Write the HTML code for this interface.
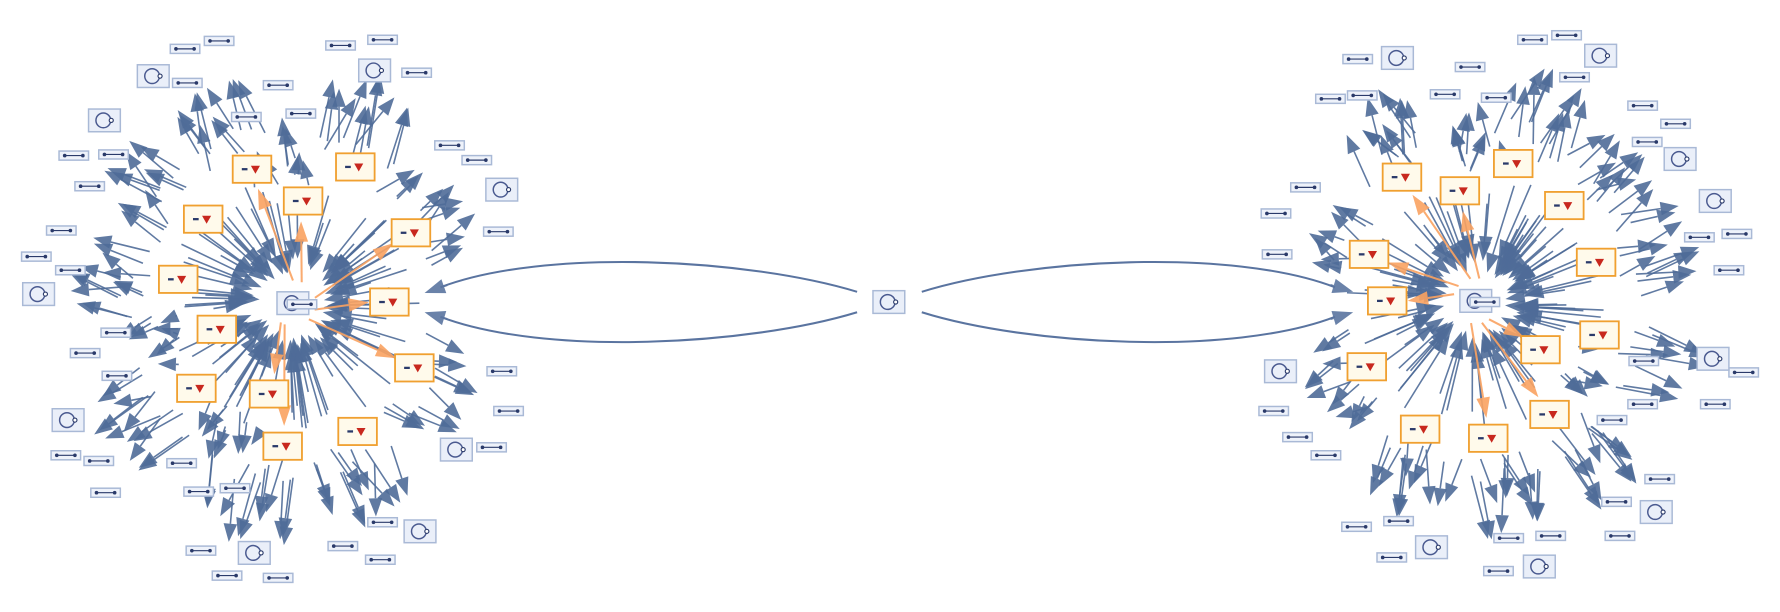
<!DOCTYPE html>
<html><head><meta charset="utf-8"><style>html,body{margin:0;padding:0;background:#fff;width:1780px;height:612px;overflow:hidden}</style></head>
<body>
<svg id="s" width="1780" height="612" viewBox="0 0 1568 539" xmlns="http://www.w3.org/2000/svg">
<g id="edges"></g><g id="nodes"></g>
</svg>
<script>
var E=document.getElementById('edges'),N=document.getElementById('nodes'),NS='http://www.w3.org/2000/svg';
var seed=7;function rnd(){seed=(seed*16807)%2147483647;return (seed-1)/2147483646;}
function el(p,t,a){var e=document.createElementNS(NS,t);for(var k in a)e.setAttribute(k,a[k]);p.appendChild(e);return e;}
function arrow(x1,y1,x2,y2,col,hl,hw,sw){
  var dx=x2-x1,dy=y2-y1,L=Math.sqrt(dx*dx+dy*dy);if(L<1)return;var ux=dx/L,uy=dy/L;
  var bx=x2-ux*hl,by=y2-uy*hl;
  el(E,'line',{x1:x1,y1:y1,x2:bx,y2:by,stroke:col,'stroke-width':sw||1.4,'stroke-opacity':0.9});
  el(E,'polygon',{points:x2+','+y2+' '+(bx-uy*hw)+','+(by+ux*hw)+' '+(bx+uy*hw)+','+(by-ux*hw),fill:col,'fill-opacity':0.9});
}
var B='#4f6b98',O='#f9a260';
function cluster(c,or,bars,circs){
  var periph=bars.concat(circs);
  for(var i=0;i<95;i++){var a=rnd()*6.283,r1=70+rnd()*45,r2=26+rnd()*18;
    arrow(c[0]+Math.cos(a)*r1,c[1]+Math.sin(a)*r1,c[0]+Math.cos(a+0.06)*r2,c[1]+Math.sin(a+0.06)*r2,B,17,6);}
  for(var i=0;i<or.length;i+=1){if(i%2)continue;var o=or[i];var a=Math.atan2(o[1]-c[1],o[0]-c[0]);
    arrow(c[0]+Math.cos(a+0.3)*20,c[1]+Math.sin(a+0.3)*20,o[0]-Math.cos(a)*18,o[1]-Math.sin(a)*18,O,18,6,1.8);}
  periph.forEach(function(p){
    var a=Math.atan2(p[1]-c[1],p[0]-c[0]);var dc=Math.hypot(p[0]-c[0],p[1]-c[1]);
    for(var k=0;k<3;k++){var j=(rnd()-0.5)*0.3;
      var r1=dc*0.62+rnd()*12,r2=dc-28-rnd()*14;
      arrow(c[0]+Math.cos(a+j)*r1,c[1]+Math.sin(a+j)*r1,c[0]+Math.cos(a+j*0.3)*r2,c[1]+Math.sin(a+j*0.3)*r2,B,16,6);}
  });
  or.forEach(function(o){
    el(N,'rect',{x:o[0]-17,y:o[1]-12,width:34,height:24,fill:'#fffaeb',stroke:'#f0a030','stroke-width':1.6});
    el(N,'rect',{x:o[0]-9,y:o[1]-1,width:5,height:2,fill:'#2a3a6a'});
    el(N,'path',{d:'M'+(o[0]-1)+','+(o[1]-3)+' l8,0 l-4,7 z',fill:'#c8281e'});
  });
  bars.forEach(function(b){barNode(b[0],b[1]);});
  circs.forEach(function(b){circNode(b[0],b[1]);});
  circNode(c[0],c[1]);barNode(c[0]+8,c[1]+1);
}
function barNode(x,y){el(N,'rect',{x:x-13,y:y-4,width:26,height:8,fill:'#eef2fa',stroke:'#a9b9d6','stroke-width':1.3});
  el(N,'line',{x1:x-8,y1:y,x2:x+8,y2:y,stroke:'#2a3a6a','stroke-width':1});
  el(N,'circle',{cx:x-8,cy:y,r:1.6,fill:'#2a3a6a'});el(N,'circle',{cx:x+8,cy:y,r:1.6,fill:'#2a3a6a'});}
function circNode(x,y){el(N,'rect',{x:x-14,y:y-10,width:28,height:20,fill:'#eaeff9',stroke:'#a9b9d6','stroke-width':1.3});
  el(N,'circle',{cx:x-1,cy:y,r:6.5,fill:'none',stroke:'#4a5a90','stroke-width':1.3});
  el(N,'circle',{cx:x+6,cy:y,r:1.8,fill:'#fff',stroke:'#2a3a6a','stroke-width':1});}
cluster([258,267],
 [[222,149],[313,147],[267,177],[179,193],[362,205],[157,246],[343,266],[191,290],[365,324],[173,342],[237,347],[315,380],[249,393]],
 [[163,43],[193,36],[300,40],[337,35],[367,64],[165,73],[245,75],[217,103],[265,100],[65,137],[100,136],[79,164],[396,128],[420,141],[439,204],[54,203],[32,226],[62,238],[102,293],[75,311],[103,331],[442,327],[448,362],[433,394],[58,401],[87,406],[160,408],[93,434],[175,433],[207,430],[337,460],[302,481],[335,493],[177,485],[200,507],[245,509]],
 [[135,67],[330,62],[92,106],[442,167],[34,259],[60,370],[402,396],[370,468],[224,487]]);
cluster([1300,265],
 [[1235,156],[1333,144],[1286,168],[1378,181],[1206,224],[1406,231],[1222,265],[1409,295],[1357,308],[1204,323],[1365,365],[1251,378],[1311,386]],
 [[1196,52],[1172,87],[1200,84],[1295,59],[1273,83],[1318,86],[1350,35],[1380,31],[1387,68],[1447,93],[1476,109],[1451,125],[1150,165],[1124,188],[1125,224],[1497,209],[1530,206],[1523,238],[1536,328],[1448,318],[1447,356],[1420,370],[1511,356],[1122,362],[1143,385],[1168,401],[1462,422],[1424,442],[1427,472],[1195,464],[1232,459],[1226,491],[1329,474],[1366,472],[1320,503]],
 [[1231,51],[1410,49],[1480,140],[1511,177],[1509,316],[1128,327],[1459,451],[1261,482],[1356,499]]);
function curve(x1,y1,cx1,cy1,cx2,cy2,x2,y2){
  el(E,'path',{d:'M'+x1+','+y1+' C'+cx1+','+cy1+' '+cx2+','+cy2+' '+x2+','+y2,fill:'none',stroke:'#5a74a0','stroke-width':1.8});
}
curve(755,257,660,228,480,218,388,253);arrow(394,251,374,258,'#5a74a0',18,6.5,1.8);
curve(755,275,660,304,480,314,388,279);arrow(394,281,374,275,'#5a74a0',18,6.5,1.8);
curve(812,257,905,228,1085,218,1176,253);arrow(1172,251,1192,257,'#5a74a0',18,6.5,1.8);
curve(812,275,905,304,1085,314,1176,279);arrow(1172,281,1192,275,'#5a74a0',18,6.5,1.8);
circNode(783,266);
</script>
</body></html>
